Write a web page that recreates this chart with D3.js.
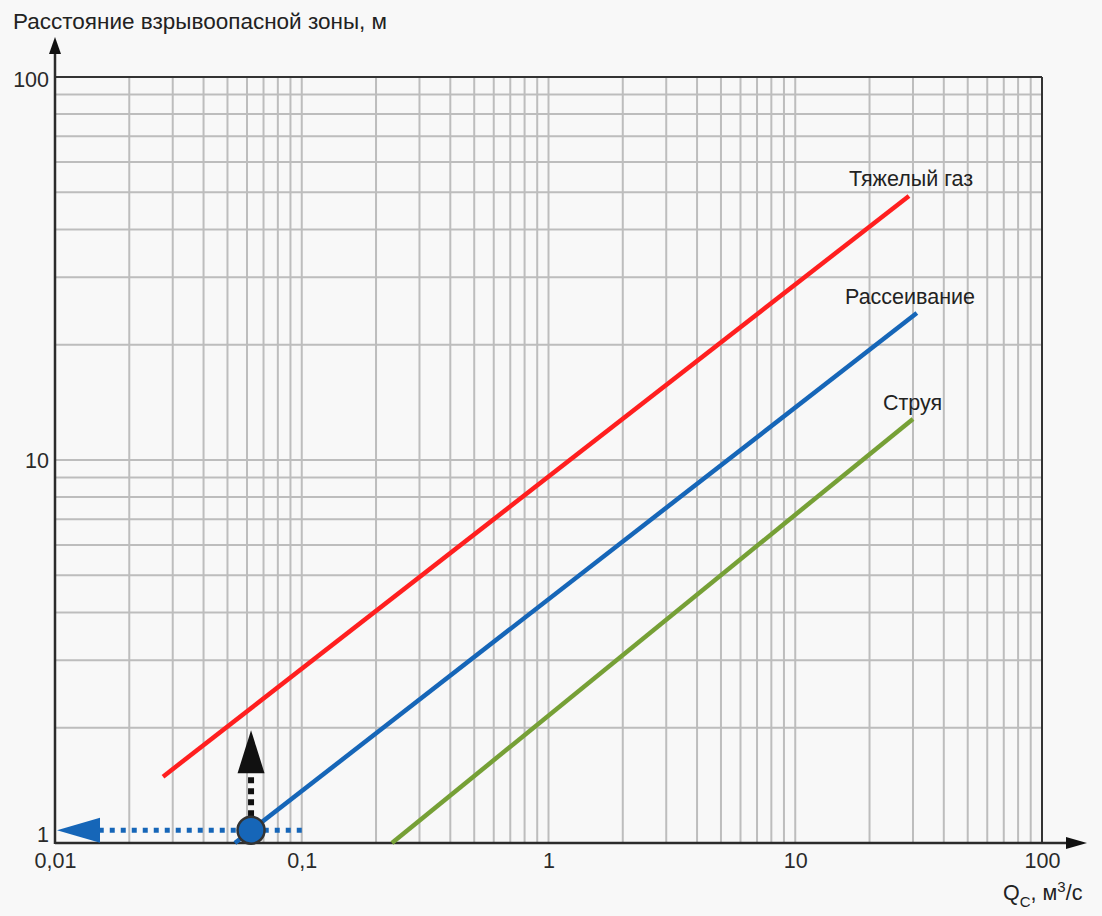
<!DOCTYPE html>
<html><head><meta charset="utf-8">
<script src="https://cdn.jsdelivr.net/npm/d3@7"></script>
<style>
html,body{margin:0;padding:0;background:#f8f8f8;}
svg{display:block;font-family:"Liberation Sans",Arial,sans-serif;}
</style></head>
<body>
<svg id="chart" width="1102" height="916"></svg>
<script>
// ---- data ----
const xTickValues = [0.01, 0.1, 1, 10, 100];
const xTickLabels = ["0,01", "0,1", "1", "10", "100"];
const yTickValues = [1, 10, 100];
const yTickLabels = ["1", "10", "100"];
const seriesNames = ["Тяжелый газ", "Рассеивание", "Струя"];
const heavyGas = [[0.0274, 1.49], [28.9, 48.9]];
const dispersion = [[0.0536, 1.0], [31.1, 24.2]];
const jet = [[0.232, 1.0], [30.0, 12.8]];
const readPoint = [0.0623, 1.08];
const readLeftTarget = 0.01;
const readRightStart = 0.1;
const readUpTarget = 1.97;
const yTitle = "Расстояние взрывоопасной зоны, м";

// ---- layout ----
const svg = d3.select("#chart");
svg.append("rect").attr("width",1102).attr("height",916).attr("fill","#f8f8f8");
const x = d3.scaleLog().domain([0.01, 100]).range([55, 1042]);
const y = d3.scaleLog().domain([1, 100]).range([843, 77]);

// grid: 1..9 per decade
const gridX = x.ticks();
const gridY = y.ticks();
const grid = svg.append("g").attr("stroke","#bdbdbd").attr("stroke-width",2);
grid.selectAll("line.gx").data(gridX).join("line")
  .attr("x1",d=>x(d)).attr("x2",d=>x(d)).attr("y1",y(1)).attr("y2",y(100));
grid.selectAll("line.gy").data(gridY).join("line")
  .attr("y1",d=>y(d)).attr("y2",d=>y(d)).attr("x1",x(0.01)).attr("x2",x(100));

// frame top & right
svg.append("line").attr("x1",x(0.01)).attr("x2",x(100)).attr("y1",y(100)).attr("y2",y(100))
  .attr("stroke","#333").attr("stroke-width",2);
svg.append("line").attr("x1",x(100)).attr("x2",x(100)).attr("y1",y(1)).attr("y2",y(100))
  .attr("stroke","#333").attr("stroke-width",2);

// axes with arrows
const axisCol = "#2b2b2b";
svg.append("line").attr("x1",x(0.01)).attr("x2",1068).attr("y1",y(1)).attr("y2",y(1))
  .attr("stroke",axisCol).attr("stroke-width",2.5);
svg.append("path").attr("d",`M1087,${y(1)} L1066,${y(1)-6} L1066,${y(1)+6} Z`).attr("fill","#111");
svg.append("line").attr("x1",x(0.01)).attr("x2",x(0.01)).attr("y1",y(1)+1).attr("y2",52)
  .attr("stroke",axisCol).attr("stroke-width",2.5);
svg.append("path").attr("d",`M${x(0.01)},37 L${x(0.01)-6},54 L${x(0.01)+6},54 Z`).attr("fill","#111");

// tick labels via d3 axes
const xAxis = d3.axisBottom(x).tickValues(xTickValues)
  .tickFormat((d,i)=>xTickLabels[i]).tickSize(0).tickPadding(10);
const gx = svg.append("g").attr("transform",`translate(0,${y(1)})`).call(xAxis);
gx.select(".domain").remove();
gx.selectAll("text").attr("font-size",21.5).attr("fill","#2a2a2a")
  .attr("font-family",'"Liberation Sans",Arial,sans-serif');

const yAxis = d3.axisLeft(y).tickValues(yTickValues)
  .tickFormat((d,i)=>yTickLabels[i]).tickSize(0).tickPadding(6);
const gy = svg.append("g").attr("transform",`translate(${x(0.01)},0)`).call(yAxis);
gy.select(".domain").remove();
gy.selectAll("text").attr("font-size",21.5).attr("fill","#2a2a2a")
  .attr("font-family",'"Liberation Sans",Arial,sans-serif')
  .attr("dy",(d)=> d===1 ? "-0.05em" : (d===100 ? "0.45em" : "0.35em"));

// series lines
const line = d3.line().x(d=>x(d[0])).y(d=>y(d[1]));
const series = [
  {data: heavyGas, color:"#ff1f1f"},
  {data: dispersion, color:"#1666b8"},
  {data: jet, color:"#76a036"}
];
svg.selectAll("path.s").data(series).join("path")
  .attr("d",d=>line(d.data)).attr("fill","none")
  .attr("stroke",d=>d.color).attr("stroke-width",4.5).attr("stroke-linecap","butt");

// series labels
const labelPos = [[849,186],[845,304],[883,410]];
svg.selectAll("text.lab").data(seriesNames).join("text")
  .attr("x",(d,i)=>labelPos[i][0]).attr("y",(d,i)=>labelPos[i][1])
  .attr("font-size",21.5).attr("fill","#222").text(d=>d);

// readout annotation
const px = x(readPoint[0]), py = y(readPoint[1]);
svg.append("line").attr("x1",x(readRightStart)).attr("x2",x(readLeftTarget)+44)
  .attr("y1",py).attr("y2",py).attr("stroke","#1666b8").attr("stroke-width",5)
  .attr("stroke-dasharray","5,6");
svg.append("path").attr("d",`M${x(readLeftTarget)+2},${py} L${x(readLeftTarget)+45},${py-12.5} L${x(readLeftTarget)+45},${py+12.5} Z`)
  .attr("fill","#1666b8");
svg.append("line").attr("x1",px).attr("x2",px).attr("y1",py-14).attr("y2",y(readUpTarget)+43)
  .attr("stroke","#111").attr("stroke-width",6).attr("stroke-dasharray","6,5");
svg.append("path").attr("d",`M${px},${y(readUpTarget)} L${px-13.5},${y(readUpTarget)+43} L${px+13.5},${y(readUpTarget)+43} Z`)
  .attr("fill","#111");
svg.append("circle").attr("cx",px).attr("cy",py).attr("r",13.5)
  .attr("fill","#1666b8").attr("stroke","#333").attr("stroke-width",2.5);

// titles
svg.append("text").attr("x",13).attr("y",29).attr("font-size",22.5).attr("fill","#222").text(yTitle);
const xt = svg.append("text").attr("x",1003).attr("y",900).attr("font-size",21.5).attr("fill","#222");
xt.append("tspan").text("Q");
xt.append("tspan").attr("font-size",15).attr("dy",7).text("C");
xt.append("tspan").attr("dy",-7).text(", м");
xt.append("tspan").attr("font-size",15).attr("dy",-8).text("3");
xt.append("tspan").attr("dy",8).text("/с");
</script>
</body></html>
